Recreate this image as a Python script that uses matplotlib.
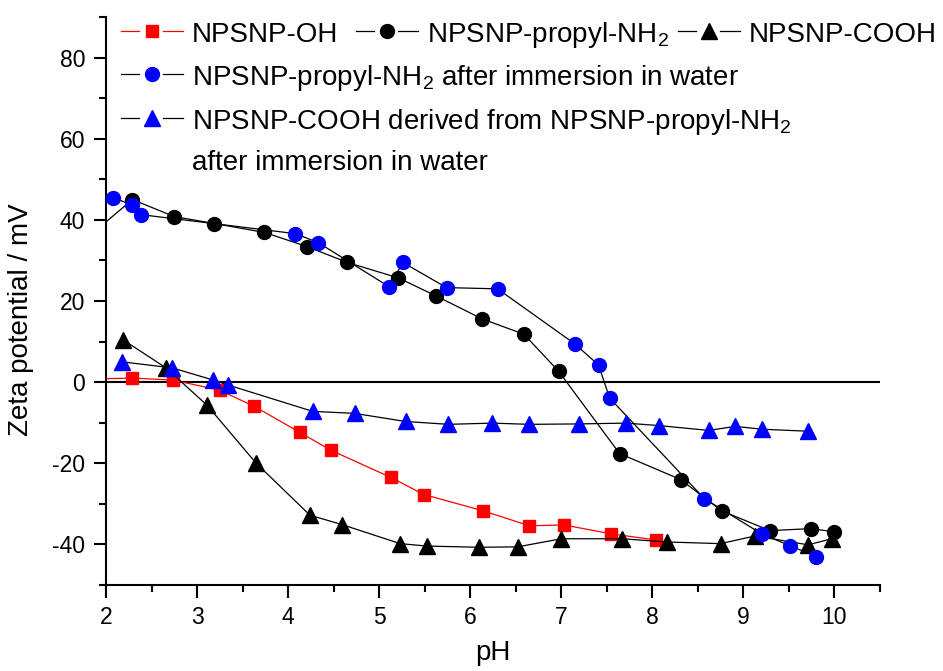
import matplotlib
matplotlib.use("Agg")
import matplotlib.pyplot as plt
from matplotlib.lines import Line2D
from matplotlib.ticker import MultipleLocator

plt.rcParams['font.family'] = ['Liberation Sans', 'DejaVu Sans']
plt.rcParams['mathtext.default'] = 'regular'
plt.rcParams['axes.unicode_minus'] = False

# NPSNP-OH (red squares)
oh_ph = [1.90, 2.29, 2.74, 3.25, 3.63, 4.13, 4.47, 5.13, 5.49, 6.14, 6.65, 7.03, 7.55, 8.04]
oh_zeta = [0.8, 1.0, 0.5, -2.0, -6.0, -12.4, -16.8, -23.5, -27.7, -31.7, -35.4, -35.2, -37.4, -38.9]

# NPSNP-propyl-NH2 (black circles)
nh2_ph = [1.90, 2.29, 2.75, 3.19, 3.74, 4.21, 4.65, 5.21, 5.62, 6.13, 6.59, 6.97,
          7.64, 8.31, 8.76, 9.29, 9.74, 10.0]
nh2_zeta = [37.6, 45.0, 40.8, 39.1, 36.9, 33.4, 29.5, 25.7, 21.3, 15.6, 11.8, 2.7,
            -17.6, -24.0, -31.7, -36.6, -36.1, -36.9]

# NPSNP-COOH (black triangles)
cooh_ph = [2.19, 2.66, 3.11, 3.65, 4.24, 4.59, 5.23, 5.52, 6.10, 6.52, 7.00, 7.67,
           8.16, 8.75, 9.13, 9.71, 9.97]
cooh_zeta = [10.4, 3.5, -5.7, -20.0, -32.8, -35.1, -39.8, -40.4, -40.7, -40.6, -38.6, -38.6,
             -39.4, -39.8, -37.9, -40.1, -38.6]

# NPSNP-propyl-NH2 after immersion in water (blue circles)
nh2w_ph = [2.08, 2.29, 2.38, 4.08, 4.33, 5.11, 5.26, 5.74, 6.30, 7.15, 7.41, 7.53,
           8.57, 9.20, 9.51, 9.80]
nh2w_zeta = [45.5, 43.6, 41.3, 36.6, 34.4, 23.5, 29.5, 23.3, 23.0, 9.4, 4.2, -3.9,
             -28.7, -37.4, -40.3, -43.0]

# NPSNP-COOH derived from NPSNP-propyl-NH2 after immersion in water (blue triangles)
coohw_ph = [2.18, 2.73, 3.18, 3.34, 4.27, 4.73, 5.29, 5.76, 6.24, 6.65, 7.19, 7.71,
            8.07, 8.62, 8.91, 9.20, 9.71]
coohw_zeta = [5.0, 3.5, 0.5, -0.7, -7.2, -7.7, -9.7, -10.4, -10.1, -10.4, -10.3, -10.1,
              -10.7, -11.9, -10.9, -11.6, -12.1]

W, H = 943, 671
fig = plt.figure(figsize=(W / 100, H / 100), dpi=100)
ax = fig.add_axes([106 / W, 1 - 585 / H, 774 / W, 568 / H])

lw = 0.9
ax.axhline(0, color='black', lw=1.5, zorder=1)
ax.plot(oh_ph, oh_zeta, color='red', lw=lw, marker='s', ms=9.3, mfc='red', mec='red', zorder=3)
ax.plot(cooh_ph, cooh_zeta, color='black', lw=lw, marker='^', ms=11, mfc='black', mec='black', zorder=3)
ax.plot(nh2_ph, nh2_zeta, color='black', lw=lw, marker='o', ms=10, mfc='black', mec='black', zorder=3)
ax.plot(nh2w_ph, nh2w_zeta, color='black', lw=lw, marker='o', ms=10, mfc='blue', mec='blue', zorder=4)
ax.plot(coohw_ph, coohw_zeta, color='black', lw=lw, marker='^', ms=11, mfc='blue', mec='blue', zorder=4)

ax.set_xlim(2, 10.5)
ax.set_ylim(-50, 90)
ax.xaxis.set_minor_locator(MultipleLocator(0.5))
ax.yaxis.set_minor_locator(MultipleLocator(10))
ax.set_xticks(range(2, 11))
ax.set_yticks(range(-40, 81, 20))
ax.tick_params(which='major', direction='out', length=9, width=1.5, labelsize=16.5, pad=6)
ax.tick_params(which='minor', direction='out', length=5, width=1.5)
for side in ['top', 'right']:
    ax.spines[side].set_visible(False)
for side in ['left', 'bottom']:
    ax.spines[side].set_linewidth(1.5)

ax.set_xlabel('pH', fontsize=20, labelpad=8)
ax.set_ylabel('Zeta potential / mV', fontsize=20)
ax.yaxis.set_label_coords(-0.093, 0.4665)


# legend drawn Origin-style in figure pixel coordinates
def fx(px):
    return px / W


def fy(py):
    return 1 - py / H


def legend_entry(x0, y, line_color, marker, face, label, ms):
    xm = x0 + 31
    fig.add_artist(Line2D([fx(x0), fx(xm - 13)], [fy(y), fy(y)], color=line_color, lw=lw))
    fig.add_artist(Line2D([fx(xm + 11), fx(xm + 31)], [fy(y), fy(y)], color=line_color, lw=lw))
    fig.add_artist(Line2D([fx(xm)], [fy(y)], marker=marker, ms=ms, mfc=face, mec=face, lw=0))
    fig.text(fx(x0 + 71), fy(y + 11), label, fontsize=20, va='baseline', ha='left')


legend_entry(121, 31, 'red', 's', 'red', 'NPSNP-OH', 9.3)
legend_entry(356, 31, 'black', 'o', 'black', 'NPSNP-propyl-NH$_2$', 10)
legend_entry(678, 31, 'black', '^', 'black', 'NPSNP-COOH', 11)
legend_entry(121, 74, 'black', 'o', 'blue', 'NPSNP-propyl-NH$_2$ after immersion in water', 10)
legend_entry(121, 118, 'black', '^', 'blue', 'NPSNP-COOH derived from NPSNP-propyl-NH$_2$', 11)
fig.text(fx(192), fy(170), 'after immersion in water', fontsize=20, va='baseline', ha='left')

fig.savefig('out.png', dpi=100)
